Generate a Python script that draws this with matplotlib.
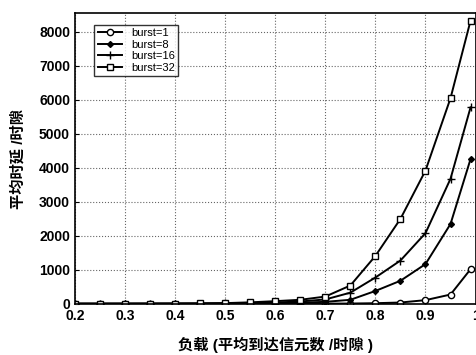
import matplotlib
matplotlib.use('Agg')
import matplotlib.pyplot as plt

plt.rcParams['font.family'] = ['Liberation Sans', 'Noto Sans CJK SC', 'DejaVu Sans']

# load values
load = [0.2, 0.25, 0.3, 0.35, 0.4, 0.45, 0.5, 0.55, 0.6, 0.65, 0.7, 0.75, 0.8, 0.85, 0.9, 0.95, 0.99]

burst1 = [3, 3, 3, 3, 3, 3, 4, 4, 5, 6, 8, 10, 20, 40, 110, 275, 1020]
burst8 = [4, 4, 4, 5, 5, 6, 8, 12, 20, 35, 60, 120, 380, 680, 1170, 2350, 4260]
burst16 = [5, 5, 5, 6, 7, 9, 14, 22, 40, 70, 130, 330, 775, 1275, 2080, 3680, 5780]
burst32 = [6, 6, 7, 8, 10, 14, 22, 45, 80, 120, 215, 540, 1410, 2500, 3920, 6050, 8330]

labels = ['burst=1', 'burst=8', 'burst=16', 'burst=32']
markers = ['o', 'D', '+', 's']

fig = plt.figure(figsize=(4.77, 3.55), dpi=100)
ax = fig.add_axes([0.157, 0.144, 0.84, 0.819])

for ys, lab, m in zip([burst1, burst8, burst16, burst32], labels, markers):
    if m == 'D':
        ax.plot(load, ys, color='black', lw=1.4, marker=m, ms=3, mfc='black', label=lab)
    elif m == '+':
        ax.plot(load, ys, color='black', lw=1.4, marker=m, ms=6, mew=1.0, label=lab)
    else:
        ax.plot(load, ys, color='black', lw=1.4, marker=m, ms=4.5, mfc='white', mew=1.0, label=lab)

ax.set_xlim(0.2, 1.0)
ax.set_ylim(0, 8550)
ax.set_xticks([0.2, 0.3, 0.4, 0.5, 0.6, 0.7, 0.8, 0.9, 1.0])
ax.set_xticklabels(['0.2', '0.3', '0.4', '0.5', '0.6', '0.7', '0.8', '0.9', '1'])
ax.set_yticks(range(0, 8001, 1000))
ax.grid(True, color='black', linestyle=':', linewidth=0.8, alpha=0.6)
ax.tick_params(direction='in', labelsize=10, length=3)
for t in ax.get_xticklabels() + ax.get_yticklabels():
    t.set_fontweight('bold')
for s in ax.spines.values():
    s.set_linewidth(1.2)

ax.set_xlabel('负载 (平均到达信元数 /时隙 )', fontsize=11, fontweight='bold', labelpad=10)
ax.set_ylabel('平均时延 /时隙', fontsize=11, fontweight='bold', labelpad=10)

leg = ax.legend(loc='upper left', bbox_to_anchor=(0.035, 0.98), fontsize=8,
                frameon=True, fancybox=False, edgecolor='black', handlelength=2.2,
                borderpad=0.3, labelspacing=0.15, handletextpad=0.8)
leg.get_frame().set_linewidth(1.0)

fig.savefig('out.png', dpi=100)
